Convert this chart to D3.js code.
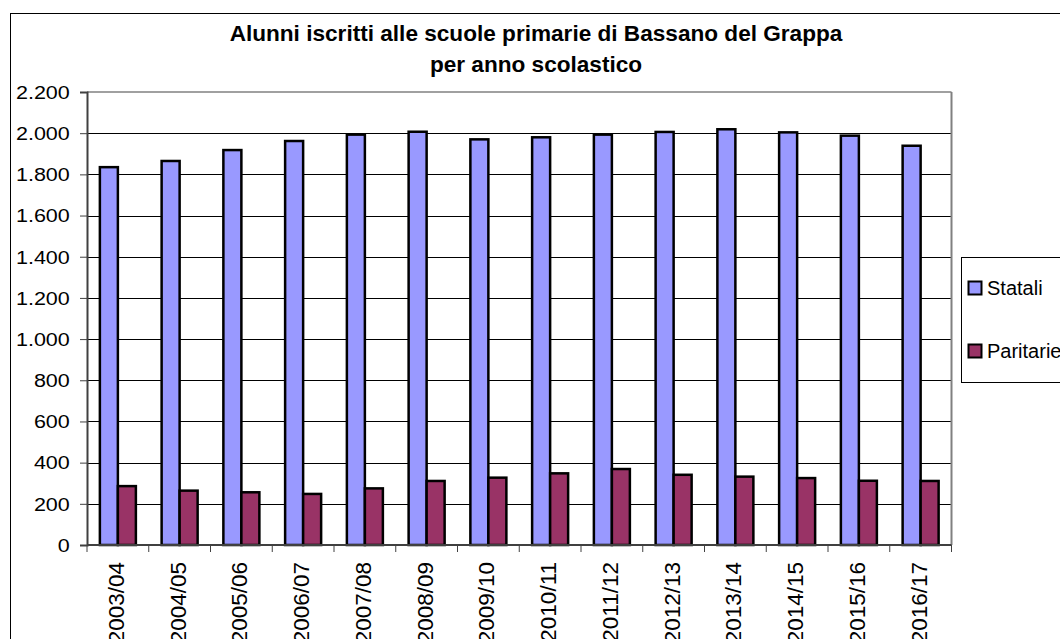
<!DOCTYPE html>
<html>
<head>
<meta charset="utf-8">
<script src="https://cdn.jsdelivr.net/npm/d3@7"></script>
<style>
  html, body { margin: 0; padding: 0; background: #fff; }
  svg { display: block; font-family: "Liberation Sans", Arial, sans-serif; }
</style>
</head>
<body>
<svg id="chart" width="1060" height="639"></svg>
<script>
// School years
const categories = ["2003/04","2004/05","2005/06","2006/07","2007/08","2008/09","2009/10",
                    "2010/11","2011/12","2012/13","2013/14","2014/15","2015/16","2016/17"];
// Pupils in state primary schools
const statali   = [1835, 1865, 1918, 1962, 1993, 2007, 1970, 1980, 1993, 2006, 2019, 2004, 1988, 1939];
// Pupils in private (paritarie) primary schools
const paritarie = [286, 264, 256, 248, 275, 311, 327, 348, 369, 341, 332, 325, 312, 311];
const seriesNames = ["Statali", "Paritarie"];
const seriesColors = ["#9999FF", "#993366"];
const yTicks = [0, 200, 400, 600, 800, 1000, 1200, 1400, 1600, 1800, 2000, 2200];
const titleLines = ["Alunni iscritti alle scuole primarie di Bassano del Grappa", "per anno scolastico"];

const svg = d3.select("#chart");
const plot = { left: 87, right: 951.5, top: 92, bottom: 545 };

const itLocale = d3.formatLocale({ decimal: ",", thousands: ".", grouping: [3], currency: ["€", ""] });
const fmt = itLocale.format(",d");

// Outer chart frame (runs off the right and bottom edges)
svg.append("rect")
  .attr("x", 10.5).attr("y", 13.5)
  .attr("width", 1200).attr("height", 800)
  .attr("fill", "#fff").attr("stroke", "#000").attr("stroke-width", 1);

// Title
svg.append("g").selectAll("text").data(titleLines).join("text")
  .attr("x", 536)
  .attr("y", (d, i) => 41 + i * 31)
  .attr("text-anchor", "middle")
  .attr("font-weight", "bold")
  .attr("font-size", 22.6)
  .attr("fill", "#000")
  .text(d => d);

const y = d3.scaleLinear().domain([0, 2200]).range([plot.bottom, plot.top]);
const x0 = d3.scaleBand().domain(categories).range([plot.left, plot.right]).padding(0);
const x1 = d3.scaleBand().domain(seriesNames).range([0, x0.bandwidth()]).paddingInner(0).paddingOuter(0.715);

const rows = categories.map((c, i) => ({ cat: c, values: [statali[i], paritarie[i]] }));

// Horizontal gridlines
svg.append("g").selectAll("line")
  .data(yTicks.filter(t => t > 0 && t < 2200)).join("line")
  .attr("x1", plot.left).attr("x2", plot.right)
  .attr("y1", d => Math.round(y(d)) + 0.5).attr("y2", d => Math.round(y(d)) + 0.5)
  .attr("stroke", "#000").attr("stroke-width", 1);

// Plot area border: top and right in grey
svg.append("line")
  .attr("x1", plot.left).attr("x2", plot.right)
  .attr("y1", y(2200)).attr("y2", y(2200))
  .attr("stroke", "#808080").attr("stroke-width", 1.5);
svg.append("line")
  .attr("x1", plot.right).attr("x2", plot.right)
  .attr("y1", y(2200)).attr("y2", plot.bottom)
  .attr("stroke", "#808080").attr("stroke-width", 2);

// Bars
const groups = svg.append("g").selectAll("g").data(rows).join("g")
  .attr("transform", d => `translate(${x0(d.cat)},0)`);
groups.selectAll("rect")
  .data(d => d.values.map((v, i) => ({ key: seriesNames[i], value: v, color: seriesColors[i] })))
  .join("rect")
  .attr("x", d => x1(d.key))
  .attr("width", x1.bandwidth())
  .attr("y", d => y(d.value))
  .attr("height", d => y(0) - y(d.value))
  .attr("fill", d => d.color)
  .attr("stroke", "#000")
  .attr("stroke-width", 2.5);

// Y axis
const yAxis = d3.axisLeft(y).tickValues(yTicks).tickSize(7).tickPadding(0).tickFormat(fmt);
const gy = svg.append("g").attr("transform", `translate(${plot.left},0)`).call(yAxis);
gy.select(".domain").attr("stroke", "#404040").attr("stroke-width", 2);
gy.selectAll(".tick line").attr("stroke", "#404040").attr("stroke-width", 1);
gy.selectAll(".tick text")
  .attr("x", -14)
  .attr("dy", "0.36em")
  .attr("font-size", 17.5)
  .attr("font-family", "'Liberation Sans', Arial, sans-serif")
  .attr("fill", "#000")
  .attr("transform", "scale(1.23,1)");

// X axis baseline and category boundary ticks
svg.append("line")
  .attr("x1", plot.left).attr("x2", plot.right)
  .attr("y1", plot.bottom).attr("y2", plot.bottom)
  .attr("stroke", "#404040").attr("stroke-width", 2);
const boundaries = categories.map(c => x0(c)).concat([x0(categories[categories.length - 1]) + x0.bandwidth()]);
svg.append("g").selectAll("line").data(boundaries).join("line")
  .attr("x1", d => d).attr("x2", d => d)
  .attr("y1", plot.bottom).attr("y2", plot.bottom + 7)
  .attr("stroke", "#404040").attr("stroke-width", 1);

// Rotated category labels
svg.append("g").selectAll("text").data(categories).join("text")
  .attr("transform", d => `translate(${x0(d) + x0.bandwidth() / 2 + 6},562) rotate(-90)`)
  .attr("text-anchor", "end")
  .attr("font-size", 22.5)
  .attr("fill", "#000")
  .text(d => d);

// Legend
const legend = svg.append("g");
legend.append("rect")
  .attr("x", 961.5).attr("y", 257.5).attr("width", 200).attr("height", 125)
  .attr("fill", "#fff").attr("stroke", "#000").attr("stroke-width", 1);
const items = legend.selectAll("g.item").data(seriesNames).join("g")
  .attr("class", "item")
  .attr("transform", (d, i) => `translate(0,${i * 63})`);
items.append("rect")
  .attr("x", 968.5).attr("y", 281.5).attr("width", 13).attr("height", 13)
  .attr("fill", (d, i) => seriesColors[i])
  .attr("stroke", "#000").attr("stroke-width", 2);
items.append("text")
  .attr("x", 987).attr("y", 295)
  .attr("font-size", 20)
  .attr("fill", "#000")
  .text(d => d);
</script>
</body>
</html>
